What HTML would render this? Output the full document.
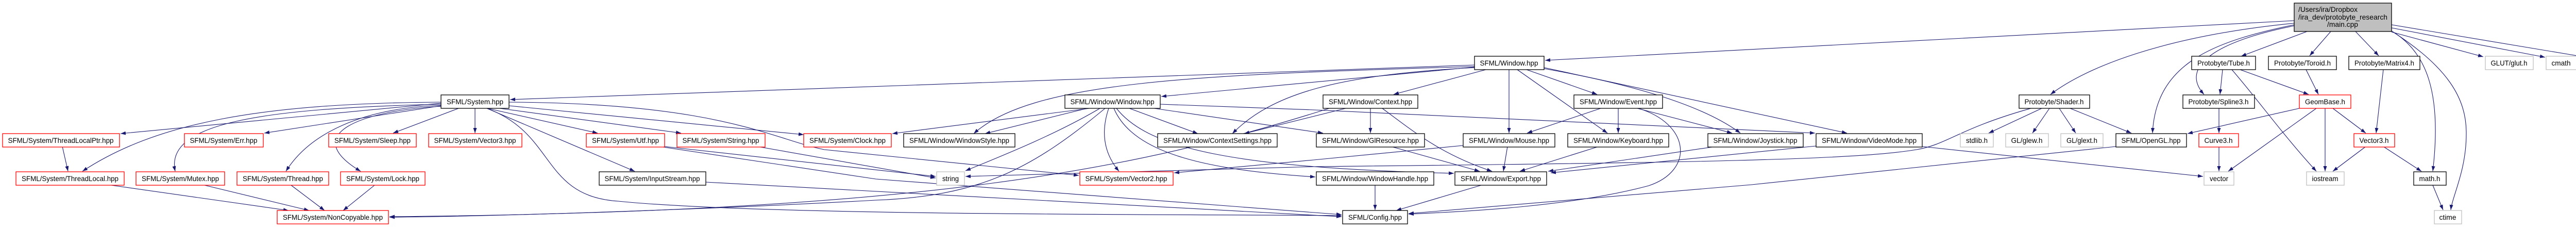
<!DOCTYPE html>
<html><head><meta charset="utf-8"><style>
html,body{margin:0;padding:0;background:#fff;}
svg{display:block;}
text{font-family:"Liberation Sans",sans-serif;font-size:14px;fill:#000;}
</style></head><body>
<svg width="5096" height="440" viewBox="0 0 5096 440" xmlns="http://www.w3.org/2000/svg">
<defs>
<marker id="a" viewBox="0 0 10 7" markerUnits="userSpaceOnUse" markerWidth="10" markerHeight="8" refX="10" refY="3.5" orient="auto"><path d="M0,0 L10,3.5 L0,7 z" fill="#191970"/></marker>
</defs>
<g fill="none" stroke="#191970" stroke-width="1.1" marker-end="url(#a)">
<path d="M4453,40 L2999,117"/>
<path d="M4453,45 C4200,70 4050,130 3980,183"/>
<path d="M4453,48 C4300,80 4185,120 4178,258"/>
<path d="M4453,50 C4300,80 4230,130 4278,183"/>
<path d="M4478,61 L4350,109"/>
<path d="M4524,61 L4483,108"/>
<path d="M4572,61 L4617,108"/>
<path d="M4642,62 L4820,110"/>
<path d="M4642,54 L4940,111"/>
<path d="M4642,48 L5020,111"/>
<path d="M4642,60 C4710,100 4740,180 4722,332"/>
<path d="M4645,62 C4750,130 4788,190 4787,260 C4787,330 4760,380 4757,407"/>
<path d="M2862,126 L990,193"/>
<path d="M2862,130 L2254,187"/>
<path d="M2862,129 C2300,145 2000,160 1890,259"/>
<path d="M2862,131 C2600,145 2470,180 2392,259"/>
<path d="M2884,135 L2705,183"/>
<path d="M2929,135 L2929,258"/>
<path d="M2945,135 L3120,258"/>
<path d="M2963,135 L3100,183"/>
<path d="M2997,133 C3150,160 3300,200 3378,258"/>
<path d="M2997,131 L3585,258"/>
<path d="M856,200 L234,259"/>
<path d="M856,205 L513,258"/>
<path d="M890,210 L763,258"/>
<path d="M922,210 L922,258"/>
<path d="M946,210 L1160,258"/>
<path d="M970,210 L1322,258"/>
<path d="M988,205 L1560,261"/>
<path d="M945,210 L1232,332"/>
<path d="M856,198 C500,200 300,240 160,332"/>
<path d="M856,202 C500,210 320,240 340,332"/>
<path d="M856,204 C700,210 600,260 555,332"/>
<path d="M856,206 C700,215 580,260 700,332"/>
<path d="M945,210 C1080,260 1050,380 1200,390 C1500,420 2400,415 2604,418"/>
<path d="M988,198 C1400,200 1500,270 1600,290 L2094,340"/>
<path d="M1290,284 L1816,342"/>
<path d="M1470,284 L1816,345"/>
<path d="M1370,353 L2604,420"/>
<path d="M1280,284 L1700,347 L2604,416"/>
<path d="M2145,210 C2000,330 1900,380 1700,388 C1300,410 900,420 756,421"/>
<path d="M2580,210 C2200,330 1800,410 756,420"/>
<path d="M2115,210 L1732,259"/>
<path d="M2110,210 L1912,259"/>
<path d="M2135,210 C2050,260 1950,300 1874,331"/>
<path d="M2152,210 C2135,260 2145,300 2172,332"/>
<path d="M2192,210 L2325,259"/>
<path d="M2162,210 C2200,300 2350,330 2553,343"/>
<path d="M2167,210 C2230,290 2400,325 2822,336"/>
<path d="M2252,202 L2550,213 L3523,258"/>
<path d="M2240,210 L2568,258"/>
<path d="M2660,210 L2660,258"/>
<path d="M2612,210 L2415,259"/>
<path d="M2683,210 C2750,260 2800,300 2896,332"/>
<path d="M3107,210 L2964,258"/>
<path d="M3141,210 L3141,258"/>
<path d="M3178,210 L3362,258"/>
<path d="M3180,210 C3280,240 3290,330 3200,360 C3050,400 2850,410 2734,415"/>
<path d="M2700,284 L2872,332"/>
<path d="M2926,284 L2918,332"/>
<path d="M2840,282 L2550,310 L2279,335"/>
<path d="M3103,284 L2950,332"/>
<path d="M3330,284 L3005,332"/>
<path d="M3525,283 L3010,335"/>
<path d="M2669,359 L2669,407"/>
<path d="M2875,359 L2710,408"/>
<path d="M4107,284 L3400,358 L2734,414"/>
<path d="M3731,284 L4276,342"/>
<path d="M3942,210 C3800,250 3780,280 3720,290 C3600,310 3300,315 2550,323 L1874,342"/>
<path d="M3963,210 L3860,258"/>
<path d="M3978,210 L3945,258"/>
<path d="M3997,210 L4029,258"/>
<path d="M4018,210 L4137,258"/>
<path d="M4307,210 L4307,258"/>
<path d="M4307,284 L4307,332"/>
<path d="M4314,135 L4309,183"/>
<path d="M4348,135 L4481,183"/>
<path d="M4332,135 C4380,190 4430,260 4496,332"/>
<path d="M4476,135 L4500,183"/>
<path d="M4626,135 L4612,258"/>
<path d="M4496,210 L4325,332"/>
<path d="M4513,210 L4513,332"/>
<path d="M4528,210 L4592,258"/>
<path d="M4463,210 L4246,259"/>
<path d="M4592,284 L4528,332"/>
<path d="M4626,284 L4700,332"/>
<path d="M4722,359 L4742,407"/>
<path d="M121,284 L132,332"/>
<path d="M216,359 L560,408"/>
<path d="M397,359 L600,408"/>
<path d="M565,359 L630,408"/>
<path d="M727,359 L666,408"/>
</g>
<g stroke-width="1.3">
<!-- main -->
<rect x="4453" y="6" width="189" height="55" fill="#bfbfbf" stroke="#000"/>
<text x="4461" y="23" textLength="115" lengthAdjust="spacingAndGlyphs">/Users/ira/Dropbox</text>
<text x="4461" y="38" textLength="173" lengthAdjust="spacingAndGlyphs">/ira_dev/protobyte_research</text>
<text x="4547" y="52" text-anchor="middle" textLength="60" lengthAdjust="spacingAndGlyphs">/main.cpp</text>
</g>
<g stroke-width="1.3" fill="#fff" text-anchor="middle">
<!-- nodes: rect + text -->
<g stroke="#ff0000">
<rect x="5" y="259" width="227" height="26"/>
<rect x="358" y="259" width="153" height="26"/>
<rect x="638" y="259" width="170" height="26"/>
<rect x="832" y="259" width="181" height="26"/>
<rect x="31" y="333" width="210" height="26"/>
<rect x="264" y="333" width="172" height="26"/>
<rect x="460" y="333" width="178" height="26"/>
<rect x="661" y="333" width="164" height="26"/>
<rect x="538" y="408" width="216" height="26"/>
<rect x="1138" y="259" width="152" height="26"/>
<rect x="1314" y="259" width="171" height="26"/>
<rect x="1560" y="259" width="170" height="26"/>
<rect x="2096" y="333" width="181" height="26"/>
<rect x="4463" y="184" width="100" height="26"/>
<rect x="4268" y="259" width="77" height="26"/>
<rect x="4569" y="259" width="79" height="26"/>
</g>
<g stroke="#000">
<rect x="856" y="184" width="132" height="26"/>
<rect x="1163" y="333" width="207" height="26"/>
<rect x="2067" y="184" width="185" height="26"/>
<rect x="1754" y="259" width="216" height="26"/>
<rect x="2247" y="259" width="232" height="26"/>
<rect x="2862" y="109" width="135" height="26"/>
<rect x="2568" y="184" width="184" height="26"/>
<rect x="3055" y="184" width="172" height="26"/>
<rect x="2555" y="259" width="210" height="26"/>
<rect x="2840" y="259" width="178" height="26"/>
<rect x="3043" y="259" width="196" height="26"/>
<rect x="3315" y="259" width="185" height="26"/>
<rect x="2555" y="333" width="228" height="26"/>
<rect x="2824" y="333" width="178" height="26"/>
<rect x="2606" y="408" width="126" height="26"/>
<rect x="3525" y="259" width="206" height="26"/>
<rect x="3919" y="184" width="137" height="26"/>
<rect x="4107" y="259" width="137" height="26"/>
<rect x="4237" y="184" width="139" height="26"/>
<rect x="4254" y="109" width="124" height="26"/>
<rect x="4403" y="109" width="132" height="26"/>
<rect x="4559" y="109" width="138" height="26"/>
<rect x="4685" y="333" width="63" height="26"/>
</g>
<g stroke="#bfbfbf">
<rect x="1818" y="333" width="54" height="26"/>
<rect x="3805" y="259" width="64" height="26"/>
<rect x="3893" y="259" width="83" height="26"/>
<rect x="4000" y="259" width="82" height="26"/>
<rect x="4824" y="109" width="93" height="26"/>
<rect x="4942" y="109" width="59" height="26"/>
<rect x="5025" y="109" width="69" height="26"/>
<rect x="4278" y="333" width="58" height="26"/>
<rect x="4477" y="333" width="73" height="26"/>
<rect x="4725" y="408" width="53" height="26"/>
</g>
</g>
<g text-anchor="middle" lengthAdjust="spacingAndGlyphs">
<text x="118" y="277" textLength="205" lengthAdjust="spacingAndGlyphs">SFML/System/ThreadLocalPtr.hpp</text>
<text x="434" y="277" textLength="131" lengthAdjust="spacingAndGlyphs">SFML/System/Err.hpp</text>
<text x="723" y="277" textLength="148" lengthAdjust="spacingAndGlyphs">SFML/System/Sleep.hpp</text>
<text x="922" y="277" textLength="159" lengthAdjust="spacingAndGlyphs">SFML/System/Vector3.hpp</text>
<text x="136" y="351" textLength="188" lengthAdjust="spacingAndGlyphs">SFML/System/ThreadLocal.hpp</text>
<text x="350" y="351" textLength="150" lengthAdjust="spacingAndGlyphs">SFML/System/Mutex.hpp</text>
<text x="549" y="351" textLength="156" lengthAdjust="spacingAndGlyphs">SFML/System/Thread.hpp</text>
<text x="743" y="351" textLength="142" lengthAdjust="spacingAndGlyphs">SFML/System/Lock.hpp</text>
<text x="646" y="426" textLength="194" lengthAdjust="spacingAndGlyphs">SFML/System/NonCopyable.hpp</text>
<text x="1214" y="277" textLength="130" lengthAdjust="spacingAndGlyphs">SFML/System/Utf.hpp</text>
<text x="1399" y="277" textLength="149" lengthAdjust="spacingAndGlyphs">SFML/System/String.hpp</text>
<text x="1645" y="277" textLength="148" lengthAdjust="spacingAndGlyphs">SFML/System/Clock.hpp</text>
<text x="2186" y="351" textLength="159" lengthAdjust="spacingAndGlyphs">SFML/System/Vector2.hpp</text>
<text x="4513" y="202" textLength="78" lengthAdjust="spacingAndGlyphs">GeomBase.h</text>
<text x="4306" y="277" textLength="55" lengthAdjust="spacingAndGlyphs">Curve3.h</text>
<text x="4608" y="277" textLength="57" lengthAdjust="spacingAndGlyphs">Vector3.h</text>
<text x="922" y="202" textLength="110" lengthAdjust="spacingAndGlyphs">SFML/System.hpp</text>
<text x="1266" y="351" textLength="185" lengthAdjust="spacingAndGlyphs">SFML/System/InputStream.hpp</text>
<text x="2159" y="202" textLength="163" lengthAdjust="spacingAndGlyphs">SFML/Window/Window.hpp</text>
<text x="1862" y="277" textLength="194" lengthAdjust="spacingAndGlyphs">SFML/Window/WindowStyle.hpp</text>
<text x="2363" y="277" textLength="210" lengthAdjust="spacingAndGlyphs">SFML/Window/ContextSettings.hpp</text>
<text x="2929" y="127" textLength="113" lengthAdjust="spacingAndGlyphs">SFML/Window.hpp</text>
<text x="2660" y="202" textLength="162" lengthAdjust="spacingAndGlyphs">SFML/Window/Context.hpp</text>
<text x="3141" y="202" textLength="150" lengthAdjust="spacingAndGlyphs">SFML/Window/Event.hpp</text>
<text x="2660" y="277" textLength="188" lengthAdjust="spacingAndGlyphs">SFML/Window/GlResource.hpp</text>
<text x="2929" y="277" textLength="156" lengthAdjust="spacingAndGlyphs">SFML/Window/Mouse.hpp</text>
<text x="3141" y="277" textLength="174" lengthAdjust="spacingAndGlyphs">SFML/Window/Keyboard.hpp</text>
<text x="3407" y="277" textLength="163" lengthAdjust="spacingAndGlyphs">SFML/Window/Joystick.hpp</text>
<text x="2669" y="351" textLength="206" lengthAdjust="spacingAndGlyphs">SFML/Window/WindowHandle.hpp</text>
<text x="2913" y="351" textLength="156" lengthAdjust="spacingAndGlyphs">SFML/Window/Export.hpp</text>
<text x="2669" y="426" textLength="104" lengthAdjust="spacingAndGlyphs">SFML/Config.hpp</text>
<text x="3628" y="277" textLength="184" lengthAdjust="spacingAndGlyphs">SFML/Window/VideoMode.hpp</text>
<text x="3987" y="202" textLength="115" lengthAdjust="spacingAndGlyphs">Protobyte/Shader.h</text>
<text x="4175" y="277" textLength="115" lengthAdjust="spacingAndGlyphs">SFML/OpenGL.hpp</text>
<text x="4306" y="202" textLength="117" lengthAdjust="spacingAndGlyphs">Protobyte/Spline3.h</text>
<text x="4316" y="127" textLength="102" lengthAdjust="spacingAndGlyphs">Protobyte/Tube.h</text>
<text x="4469" y="127" textLength="110" lengthAdjust="spacingAndGlyphs">Protobyte/Toroid.h</text>
<text x="4628" y="127" textLength="116" lengthAdjust="spacingAndGlyphs">Protobyte/Matrix4.h</text>
<text x="4716" y="351" textLength="41" lengthAdjust="spacingAndGlyphs">math.h</text>
<text x="1845" y="351" textLength="32" lengthAdjust="spacingAndGlyphs">string</text>
<text x="3837" y="277" textLength="42" lengthAdjust="spacingAndGlyphs">stdlib.h</text>
<text x="3934" y="277" textLength="61" lengthAdjust="spacingAndGlyphs">GL/glew.h</text>
<text x="4041" y="277" textLength="60" lengthAdjust="spacingAndGlyphs">GL/glext.h</text>
<text x="4870" y="127" textLength="71" lengthAdjust="spacingAndGlyphs">GLUT/glut.h</text>
<text x="4971" y="127" textLength="37" lengthAdjust="spacingAndGlyphs">cmath</text>
<text x="5059" y="127" textLength="47" lengthAdjust="spacingAndGlyphs">iomanip</text>
<text x="4307" y="351" textLength="36" lengthAdjust="spacingAndGlyphs">vector</text>
<text x="4513" y="351" textLength="51" lengthAdjust="spacingAndGlyphs">iostream</text>
<text x="4751" y="426" textLength="33" lengthAdjust="spacingAndGlyphs">ctime</text>
</g>
</svg>
</body></html>
